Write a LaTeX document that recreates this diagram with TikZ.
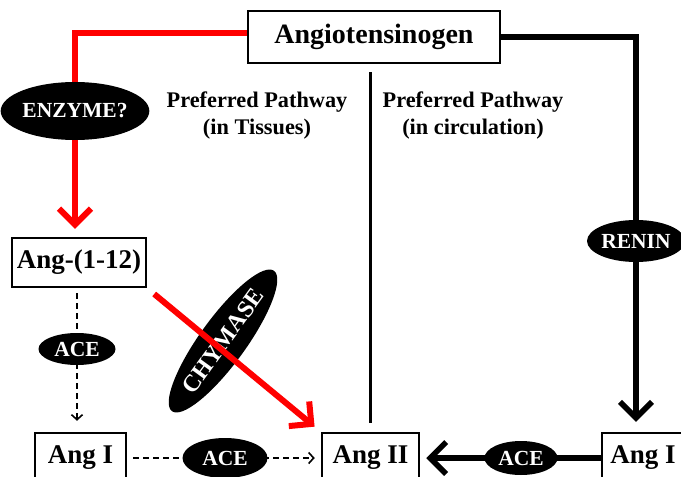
\documentclass[tikz,border=0pt]{standalone}
\usepackage{fontspec}
\setmainfont{Liberation Serif}
\usetikzlibrary{arrows.meta,positioning,shapes.geometric}

\begin{document}
\begin{tikzpicture}[x=1pt,y=-1pt,
  box/.style={draw,line width=2.5pt,fill=white,inner sep=0pt,font=\fontsize{27}{29}\selectfont\bfseries},
  enz/.style={ellipse,fill=black,text=white,inner sep=0pt,font=\fontsize{21.5}{23}\selectfont\bfseries},
  lbl/.style={align=center,font=\fontsize{22.3}{27}\selectfont\bfseries},
  redpath/.style={red,line width=6pt},
  blkpath/.style={black,line width=5.5pt},
  bigtip/.style={-{Straight Barb[length=16pt,width=32pt]}},
  dashpath/.style={line width=1.8pt,dash pattern=on 6pt off 4pt,-{Straight Barb[length=5pt,width=11pt,line width=1.6pt]}}]
  \useasboundingbox (0,0) rectangle (681,477);
  \clip (0,0) rectangle (681,477);

  \node[box, minimum width=252pt, minimum height=52pt, font=\fontsize{28}{30}\selectfont\bfseries] (ang) at (374,37) {Angiotensinogen};
  \node[box, minimum width=134pt, minimum height=49pt] (a112) at (79,262.5) {Ang-(1-12)};
  \node[box, minimum width=91pt, minimum height=50pt] (angIl) at (80.5,458) {Ang I};
  \node[box, minimum width=97pt, minimum height=50pt] (angII) at (370.5,458) {Ang II};
  \node[box, minimum width=82pt, minimum height=50pt] (angIr) at (643,458) {Ang I};

  \node[lbl] (tissue) at (257,116) {Preferred Pathway\\(in Tissues)};
  \node[lbl] (circ) at (473,116) {Preferred Pathway\\(in circulation)};

  \draw[line width=3pt, shorten <=9pt, shorten >=8pt] (angII.north) -- (angII.north |- ang.south);

  \node[enz, minimum width=125pt, minimum height=58pt] (enzyme) at (75,111) {ENZYME?};
  \node[enz, minimum width=92pt, minimum height=42pt] (renin) at (636,241) {RENIN};
  \node[enz, minimum width=172pt, minimum height=46pt, rotate=54, font=\fontsize{24}{26}\selectfont\bfseries] (chym) at (223,341) {CHYMASE};

  \draw[redpath] ([yshift=4pt]ang.west) -| (enzyme.north);
  \draw[redpath, bigtip, shorten >=8pt] (enzyme.south) -- (a112.north -| enzyme);
  \draw[redpath, bigtip, shorten <=9pt, shorten >=8pt] (a112.south east) -- (angII.north west);

  \draw[blkpath] (ang.east) -| (renin.north);
  \draw[blkpath, bigtip, shorten >=10pt] (renin.south) -- (renin.south |- angIr.north);
  \draw[blkpath, bigtip, shorten >=6pt] (angIr.west) -- (angII.east);
  \node[enz, minimum width=73pt, minimum height=34pt] (aceC) at (521,458) {ACE};

  \draw[dashpath, shorten <=5pt, shorten >=11pt] (a112.south -| 77,0) -- (angIl.north -| 77,0);
  \node[enz, minimum width=77pt, minimum height=32pt] (aceA) at (77,349) {ACE};
  \draw[dashpath, shorten <=6pt, shorten >=6pt] (angIl.east) -- (angII.west);
  \node[enz, minimum width=85pt, minimum height=40pt] (aceB) at (225,458) {ACE};
\end{tikzpicture}
\end{document}
